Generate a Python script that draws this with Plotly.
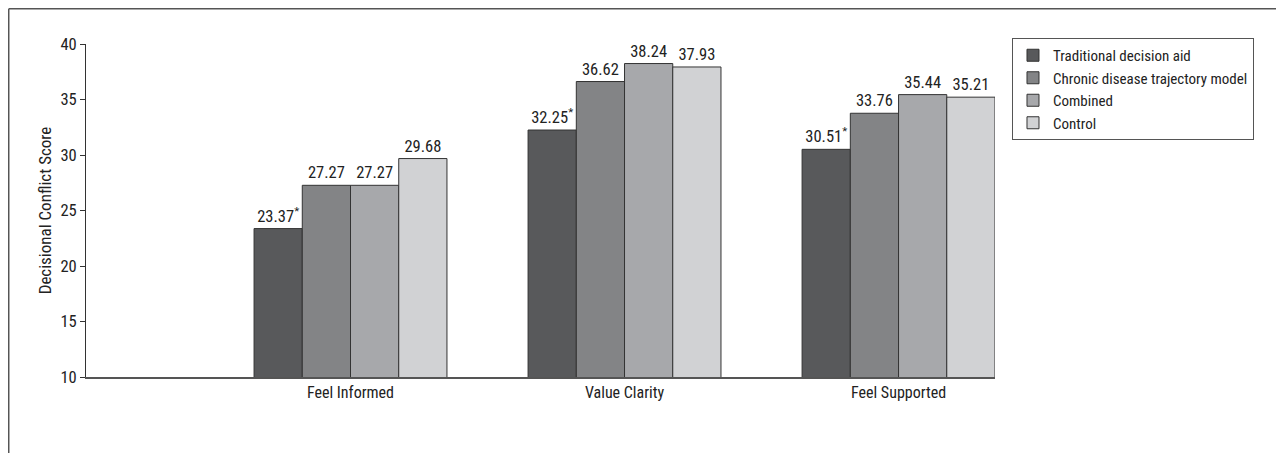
import plotly.graph_objects as go

categories = ["Feel Informed", "Value Clarity", "Feel Supported"]
category_pos = [1, 2, 3]
series_names = ["Traditional decision aid", "Chronic disease trajectory model", "Combined", "Control"]
traditional = [23.37, 32.25, 30.51]
trajectory = [27.27, 36.62, 33.76]
combined = [27.27, 38.24, 35.44]
control = [29.68, 37.93, 35.21]
significant = [[True, True, True], [False, False, False], [False, False, False], [False, False, False]]
y_ticks = [10, 15, 20, 25, 30, 35, 40]

colors = ["#58595b", "#838486", "#a7a8ab", "#d1d2d4"]
FONT = "Roboto Condensed, Liberation Sans Narrow, Arial Narrow, Roboto, sans-serif"

fig = go.Figure()
for name, vals, sig, col in zip(series_names, [traditional, trajectory, combined, control], significant, colors):
    labels = [f"{v:.2f}" + ("<sup>*</sup>" if s else "") for v, s in zip(vals, sig)]
    fig.add_trace(go.Bar(
        x=category_pos, y=vals, name=name,
        marker=dict(color=col, line=dict(color="#333333", width=1)),
        text=labels, textposition="outside", constraintext="none",
        textfont=dict(size=16.5, color="#222222", family=FONT),
        cliponaxis=False,
    ))

fig.update_layout(
    width=1284, height=453,
    margin=dict(l=78, r=297, t=36, b=84),
    paper_bgcolor="white", plot_bgcolor="white",
    barmode="group", bargap=0.296, bargroupgap=0,
    font=dict(family=FONT, size=16, color="#222222"),
    showlegend=True,
    legend=dict(
        x=1.0187, y=1.018, xanchor="left", yanchor="top",
        bordercolor="#555555", borderwidth=1,
        font=dict(size=15, family=FONT, color="#222222"),
        traceorder="normal", tracegroupgap=0,
    ),
    xaxis=dict(
        range=[0.0347, 3.352], tickvals=category_pos, ticktext=categories,
        showline=True, linecolor="#555555", linewidth=1.5, ticks="",
        showgrid=False, zeroline=False, tickfont=dict(size=16),
    ),
    yaxis=dict(
        range=[10, 40], tickvals=y_ticks, showline=True, linecolor="#333333",
        linewidth=1, ticks="outside", ticklen=5, tickcolor="#333333",
        showgrid=False, zeroline=False, tickfont=dict(size=16.5),
        title=dict(text="Decisional Conflict Score", font=dict(size=17), standoff=4),
    ),
    shapes=[
        dict(type="line", xref="paper", yref="paper", x0=-0.085, x1=1.33, y0=1.1058, y1=1.1058,
             line=dict(color="#555555", width=1.5)),
        dict(type="line", xref="paper", yref="paper", x0=-0.085, x1=-0.085, y0=1.1058, y1=-0.26,
             line=dict(color="#555555", width=1.5)),
    ],
)

fig.write_html("out.html")
